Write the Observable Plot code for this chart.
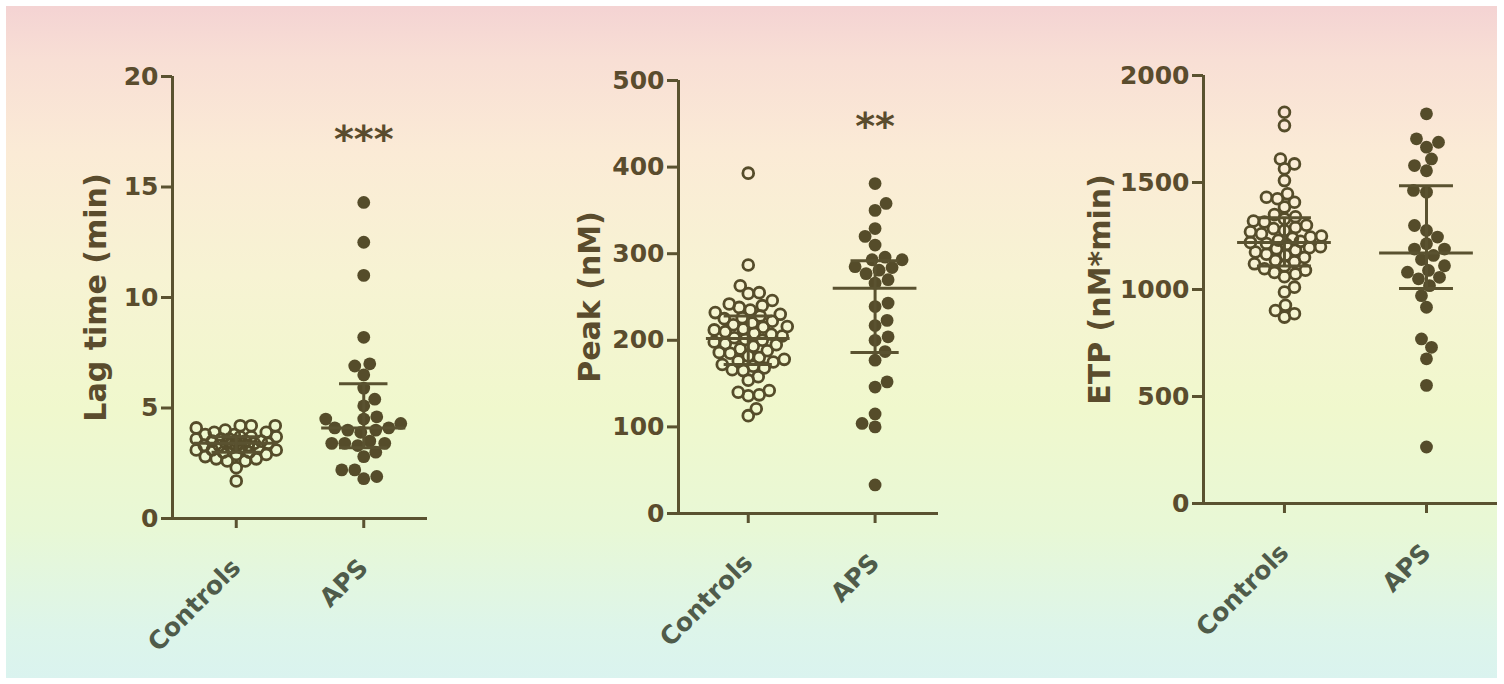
<!DOCTYPE html>
<html><head><meta charset="utf-8">
<script src="https://cdn.jsdelivr.net/npm/d3@7"></script>
<script src="https://cdn.jsdelivr.net/npm/@observablehq/plot@0.6"></script>
<style>
html,body{margin:0;padding:0;background:#fff;overflow:hidden;}
#page{position:relative;width:1504px;height:684px;background:#fff;overflow:hidden;}
#bg{position:absolute;left:6px;top:6px;width:1491px;height:672px;
 background:linear-gradient(180deg,#f4d3d3 0%,#f8dfd5 8%,#fbebd6 22%,#f7f3d3 40%,#f0f8cd 60%,#e8f8d6 78%,#ddf5ea 93%,#daf3ef 100%);}
.panel{position:absolute;top:0;}
</style></head><body><div id="page"><div id="bg"></div></div>
<script>
// ---- data ----
const groups = ["Controls", "APS"];

const lagControls = [4.2,4.2,4.2,4.1,4.0,3.9,3.9,3.8,3.8,3.7,3.7,3.7,3.6,3.6,3.6,3.5,3.5,3.5,3.5,3.4,3.4,3.4,3.4,3.4,3.3,3.3,3.3,3.3,3.2,3.2,3.2,3.1,3.1,3.1,3.0,3.0,2.9,2.9,2.8,2.7,2.7,2.6,2.6,2.3,1.7];
const lagAPS = [14.3,12.5,11.0,8.2,7.0,6.9,6.5,5.9,5.4,5.1,4.6,4.5,4.5,4.3,4.1,4.1,4.0,4.0,3.9,3.5,3.4,3.4,3.4,3.3,3.0,2.8,2.2,2.2,1.9,1.8];
const lagSummary = [[3.4, 3.0, 3.7], [4.1, 3.2, 6.1]]; // median, Q1, Q3
const lagTicks = [0, 5, 10, 15, 20];

const peakControls = [393,287,263,255,254,246,242,240,238,235,232,230,228,226,225,222,220,218,216,215,213,212,210,208,207,205,203,201,200,198,196,195,193,190,188,186,185,182,180,178,176,175,172,170,168,166,165,158,154,142,140,137,136,121,113];
const peakAPS = [381,358,350,329,320,310,296,293,293,285,284,281,277,270,266,243,239,223,217,204,200,187,177,152,146,115,104,100,33];
const peakSummary = [[202, 172, 228], [260, 186, 292]];
const peakTicks = [0, 100, 200, 300, 400, 500];

const etpControls = [1828,1766,1610,1587,1564,1509,1447,1431,1424,1408,1385,1350,1340,1330,1320,1315,1300,1290,1285,1276,1270,1260,1250,1245,1240,1230,1225,1220,1215,1210,1200,1195,1190,1183,1175,1165,1160,1150,1136,1130,1120,1110,1097,1090,1080,1073,1060,1011,988,926,902,887,871];
const etpAPS = [1821,1704,1688,1665,1610,1579,1555,1463,1455,1299,1276,1245,1214,1189,1189,1159,1140,1111,1089,1081,1057,1050,1018,971,917,769,730,676,552,264];
const etpSummary = [[1220, 1110, 1335], [1170, 1005, 1485]];
const etpTicks = [0, 500, 1000, 1500, 2000];

const yLabels = ["Lag time (min)", "Peak (nM)", "ETP (nM*min)"];
const stars = ["***", "**", ""];
const starValues = [17.4, 454, null];

// ---- styling ----
const FONT = "'DejaVu Sans', sans-serif";
const AX = "#5a5230";
const DOT = "#554c2a";
const TXT = "#5a4c2d";
const CAT = "#4f5b4a";

function swarm(values, yPx, minDist, maxOff) {
  const idx = d3.range(values.length).sort((a, b) => d3.ascending(values[a], values[b]));
  const placed = [];
  const off = new Array(values.length).fill(0);
  idx.forEach((i, n) => {
    const y = yPx(values[i]);
    const signs = n % 2 ? [1, -1] : [-1, 1];
    let chosen = null, bestX = 0, bestS = -Infinity;
    for (let o = 0; o <= maxOff && chosen === null; o += 1) {
      for (const s of signs) {
        const x = s * o;
        let md = Infinity;
        for (const p of placed) md = Math.min(md, Math.hypot(p[0] - x, p[1] - y));
        if (md >= minDist) { chosen = x; break; }
        const score = md - 0.12 * Math.abs(x);
        if (score > bestS) { bestS = score; bestX = x; }
      }
    }
    if (chosen === null) chosen = bestX;
    placed.push([chosen, y]);
    off[i] = chosen;
  });
  return off;
}

const panels = [
  {left: 0, width: 470, mL: 172, mR: 43, mT: 76, mB: 166, xd: [0.5, 2.5], yMax: 20,
   ticks: lagTicks, controls: lagControls, aps: lagAPS, summary: lagSummary, labelDx: -76, k: 0},
  {left: 470, width: 500, mL: 208, mR: 32, mT: 80, mB: 171, xd: [0.45, 2.5], yMax: 500,
   ticks: peakTicks, controls: peakControls, aps: peakAPS, summary: peakSummary, labelDx: -88, k: 1},
  {left: 970, width: 534, mL: 233, mR: 7, mT: 75, mB: 181, xd: [0.43, 2.5], yMax: 2000,
   ticks: etpTicks, controls: etpControls, aps: etpAPS, summary: etpSummary, labelDx: -103, k: 2}
];

const page = document.getElementById("page");
const H = 684;
for (const c of panels) {
  const innerW = c.width - c.mL - c.mR, innerH = H - c.mT - c.mB;
  const pxPerUnit = innerW / (c.xd[1] - c.xd[0]);
  const yPx = v => innerH * (1 - v / c.yMax);
  const rows = [];
  [c.controls, c.aps].forEach((vals, gi) => {
    const off = gi === 0 ? swarm(vals, yPx, 10.5, 40) : swarm(vals, yPx, 12.5, 44);
    vals.forEach((v, j) => rows.push({gi: gi + 1, v, x: gi + 1 + off[j] / pxPerUnit}));
  });
  const summ = c.summary.map((s, gi) => ({gi: gi + 1, med: s[0], q1: s[1], q3: s[2]}));
  const marks = [
    Plot.ruleX([c.xd[0]], {stroke: AX, strokeWidth: 3}),
    Plot.ruleY([0], {stroke: AX, strokeWidth: 3}),
    Plot.axisY({ticks: c.ticks, tickSize: 11, tickPadding: 3, stroke: AX, strokeWidth: 3, fill: TXT,
      fontSize: 25, fontWeight: "bold", fontFamily: FONT, label: null, tickFormat: d => String(d)}),
    Plot.axisX({ticks: [1, 2], tickFormat: d => groups[d - 1], tickSize: 10, tickPadding: 35, tickRotate: -45,
      stroke: AX, strokeWidth: 3, fill: CAT, fontSize: 25, fontWeight: "bold", fontFamily: FONT, label: null}),
    Plot.text([yLabels[c.k]], {frameAnchor: "left", textAnchor: "middle", rotate: -90, dx: c.labelDx, fontSize: 30,
      fontWeight: "bold", fontFamily: FONT, fill: TXT}),
    Plot.dot(rows.filter(d => d.gi === 1), {x: "x", y: "v", r: 5.4, stroke: DOT, strokeWidth: 2.8, fill: "none"}),
    Plot.dot(rows.filter(d => d.gi === 2), {x: "x", y: "v", r: 6.4, fill: DOT, stroke: "none"}),
    Plot.ruleY(summ, {y: "med", x1: d => d.gi - 0.33, x2: d => d.gi + 0.33, stroke: AX, strokeWidth: 3}),
    Plot.ruleY(summ, {y: "q1", x1: d => d.gi - 0.19, x2: d => d.gi + 0.19, stroke: AX, strokeWidth: 3}),
    Plot.ruleY(summ, {y: "q3", x1: d => d.gi - 0.19, x2: d => d.gi + 0.19, stroke: AX, strokeWidth: 3}),
    Plot.ruleX(summ, {x: "gi", y1: "q1", y2: "q3", stroke: AX, strokeWidth: 3})
  ];
  if (stars[c.k]) {
    marks.push(Plot.text([stars[c.k]], {x: 2, y: starValues[c.k], fontSize: 38, fontWeight: "bold",
      fontFamily: FONT, fill: TXT, dy: 6}));
  }
  const svg = Plot.plot({
    width: c.width, height: H,
    marginLeft: c.mL, marginRight: c.mR, marginTop: c.mT, marginBottom: c.mB,
    x: {type: "linear", domain: c.xd, axis: null},
    y: {type: "linear", domain: [0, c.yMax], axis: null},
    style: {background: "transparent", overflow: "visible", fontFamily: FONT},
    marks
  });
  svg.classList.add("panel");
  svg.style.left = c.left + "px";
  svg.style.position = "absolute";
  svg.style.top = "0px";
  page.appendChild(svg);
}
</script></body></html>
